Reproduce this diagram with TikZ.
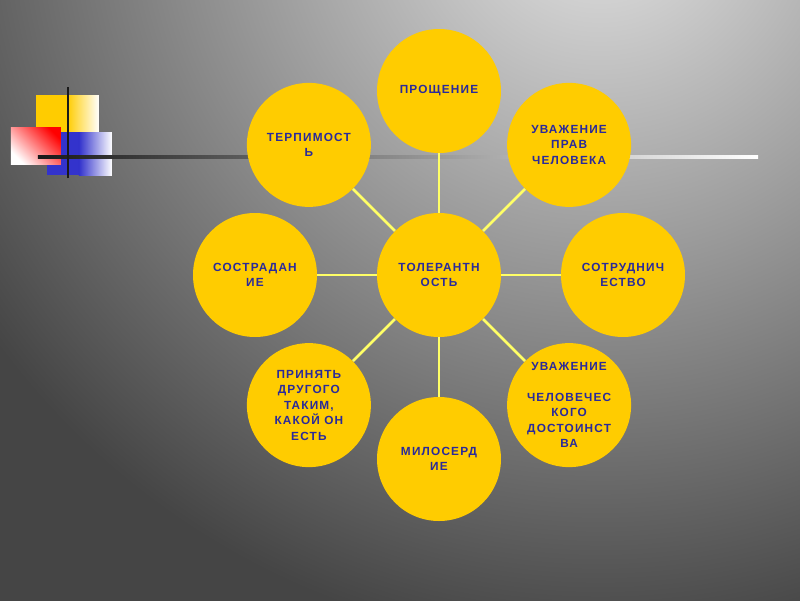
\documentclass[tikz,border=0pt]{standalone}
\usepackage{fontspec}
\setmainfont{Liberation Sans}[LetterSpace=10]
\definecolor{petalyellow}{RGB}{255,204,0}
\definecolor{linkyellow}{RGB}{255,255,102}
\definecolor{inkblue}{RGB}{42,42,155}
\definecolor{sqblue}{RGB}{51,51,204}
\definecolor{bglight}{gray}{0.9}
\definecolor{bgmid}{gray}{0.6}
\definecolor{bgdark}{gray}{0.27}
\pgfdeclareradialshading{bgglow}{\pgfpoint{0bp}{0bp}}{color(0bp)=(bglight); color(6bp)=(bgmid); color(12.5bp)=(bgdark); color(50bp)=(bgdark)}

\begin{document}
\begin{tikzpicture}[
  petal/.style={circle,fill=petalyellow,minimum size=3.1cm,inner sep=0pt,align=center,
    text=inkblue,font=\fontsize{8.4pt}{11pt}\selectfont\bfseries},
  link/.style={linkyellow,line width=2pt}]
\useasboundingbox (-10.975,-8.125) rectangle (9.025,6.875);
\begin{scope}
\clip (-10.975,-8.125) rectangle (9.025,6.875);
\shade[shading=bgglow] (4.025,9.375) circle (37.5);
\end{scope}

% squares top left
\fill[petalyellow] (-10.075,2.925) rectangle (-9.3,4.5);
\shade[left color=petalyellow,right color=white] (-9.3,2.925) rectangle (-8.5,4.5);
\fill[sqblue] (-9.8,2.5) rectangle (-9.0,3.575);
\shade[left color=sqblue,right color=white] (-9.0,2.5) rectangle (-8.175,3.575);
\shade[top color=red,bottom color=white,shading angle=-45] (-10.7,2.775) rectangle (-9.45,3.7);
\shade[left color=black!90,right color=white] (-10.025,2.91) rectangle (7.975,2.99);
\draw[black!90,line width=1.8pt] (-9.275,2.425) -- (-9.275,4.7);

\node[petal] (tol) at (0,0) {ТОЛЕРАНТН\\ОСТЬ};
\node[petal] (proshch) at (90:4.6) {ПРОЩЕНИЕ};
\node[petal] (uvprav) at (45:4.6) {УВАЖЕНИЕ\\ПРАВ\\ЧЕЛОВЕКА};
\node[petal] (sotr) at (0:4.6) {СОТРУДНИЧ\\ЕСТВО};
\node[petal] (uvdost) at (-45:4.6) {УВАЖЕНИЕ\\[11pt]ЧЕЛОВЕЧЕС\\КОГО\\ДОСТОИНСТ\\ВА};
\node[petal] (milos) at (-90:4.6) {МИЛОСЕРД\\ИЕ};
\node[petal] (prinyat) at (-135:4.6) {ПРИНЯТЬ\\ДРУГОГО\\ТАКИМ,\\КАКОЙ ОН\\ЕСТЬ};
\node[petal] (sostr) at (180:4.6) {СОСТРАДАН\\ИЕ};
\node[petal] (terp) at (135:4.6) {ТЕРПИМОСТ\\Ь};

\draw[link] (tol) -- (proshch);
\draw[link] (tol) -- (uvprav);
\draw[link] (tol) -- (sotr);
\draw[link] (tol) -- (uvdost);
\draw[link] (tol) -- (milos);
\draw[link] (tol) -- (prinyat);
\draw[link] (tol) -- (sostr);
\draw[link] (tol) -- (terp);
\end{tikzpicture}
\end{document}
